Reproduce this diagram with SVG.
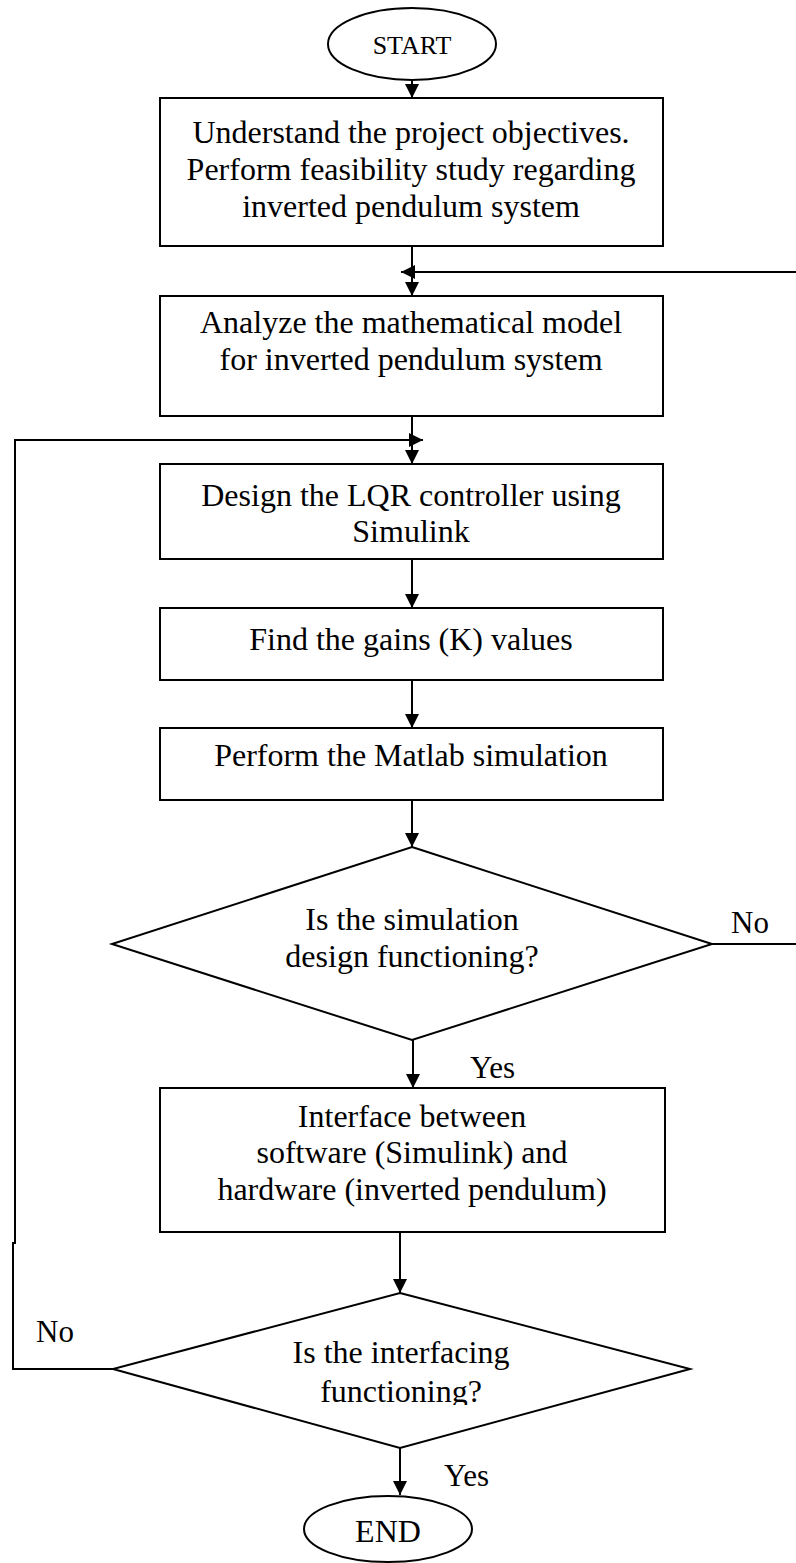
<svg xmlns="http://www.w3.org/2000/svg" width="796" height="1563" viewBox="0 0 796 1563">
<style>
.shape{fill:#fff;stroke:#000;stroke-width:2}
.edge{fill:none;stroke:#000;stroke-width:2}
.t{font-family:"Liberation Serif","Times New Roman",serif;font-size:32px;fill:#000;text-anchor:middle}
.lbl{font-family:"Liberation Serif","Times New Roman",serif;font-size:31px;fill:#000}
</style>
<defs>
<marker id="ah" viewBox="0 0 10 10" refX="10" refY="5" markerWidth="15" markerHeight="14" markerUnits="userSpaceOnUse" orient="auto">
<path d="M0,0 L10,5 L0,10 z" fill="#000"/>
</marker>
<clipPath id="clipD2"><rect x="100" y="1290" width="600" height="115"/></clipPath>
</defs>
<rect width="796" height="1563" fill="#fff"/>
<g id="connectors">
<path class="edge" d="M412,80 V98" marker-end="url(#ah)"/>
<path class="edge" d="M412,246 V296" marker-end="url(#ah)"/>
<path class="edge" d="M712,944 H800 V272 H401" marker-end="url(#ah)"/>
<path class="edge" d="M412,416 V464" marker-end="url(#ah)"/>
<path class="edge" d="M113,1369 H13 V1243 H15 V440 H423" marker-end="url(#ah)"/>
<path class="edge" d="M412,559 V608" marker-end="url(#ah)"/>
<path class="edge" d="M412,680 V728" marker-end="url(#ah)"/>
<path class="edge" d="M412,800 V847" marker-end="url(#ah)"/>
<path class="edge" d="M413,1040 V1088" marker-end="url(#ah)"/>
<path class="edge" d="M400,1232 V1293" marker-end="url(#ah)"/>
<path class="edge" d="M400,1448 V1495" marker-end="url(#ah)"/>
<text class="lbl" x="731" y="933">No</text>
<text class="lbl" x="470" y="1078">Yes</text>
<text class="lbl" x="36" y="1342">No</text>
<text class="lbl" x="444" y="1486">Yes</text>
</g>
<g id="start">
<ellipse class="shape" cx="412" cy="44" rx="84" ry="36"/>
<text class="t" x="412" y="54" style="font-size:26px">START</text>
</g>
<g id="understand">
<rect class="shape" x="160" y="98" width="503" height="148"/>
<text class="t" x="411" y="143">Understand the project objectives.</text>
<text class="t" x="411" y="180">Perform feasibility study regarding</text>
<text class="t" x="411" y="217">inverted pendulum system</text>
</g>
<g id="analyze">
<rect class="shape" x="160" y="296" width="503" height="120"/>
<text class="t" x="411" y="333">Analyze the mathematical model</text>
<text class="t" x="411" y="370">for inverted pendulum system</text>
</g>
<g id="design">
<rect class="shape" x="160" y="464" width="503" height="95"/>
<text class="t" x="411" y="506">Design the LQR controller using</text>
<text class="t" x="411" y="542">Simulink</text>
</g>
<g id="gains">
<rect class="shape" x="160" y="608" width="503" height="72"/>
<text class="t" x="411" y="650">Find the gains (K) values</text>
</g>
<g id="matlab">
<rect class="shape" x="160" y="728" width="503" height="72"/>
<text class="t" x="411" y="766">Perform the Matlab simulation</text>
</g>
<g id="decision1">
<polygon class="shape" points="412,847 712,944 412,1040 112,944"/>
<text class="t" x="412" y="930">Is the simulation</text>
<text class="t" x="412" y="967">design functioning?</text>
</g>
<g id="interface">
<rect class="shape" x="160" y="1088" width="505" height="144"/>
<text class="t" x="412" y="1127">Interface between</text>
<text class="t" x="412" y="1163">software (Simulink) and</text>
<text class="t" x="412" y="1200">hardware (inverted pendulum)</text>
</g>
<g id="decision2">
<polygon class="shape" points="400,1293 690,1369 400,1448 113,1369"/>
<g clip-path="url(#clipD2)">
<text class="t" x="401" y="1363">Is the interfacing</text>
<text class="t" x="401" y="1402">functioning?</text>
</g>
</g>
<g id="end">
<ellipse class="shape" cx="388" cy="1529" rx="84" ry="33"/>
<text class="t" x="388" y="1542">END</text>
</g>
</svg>
